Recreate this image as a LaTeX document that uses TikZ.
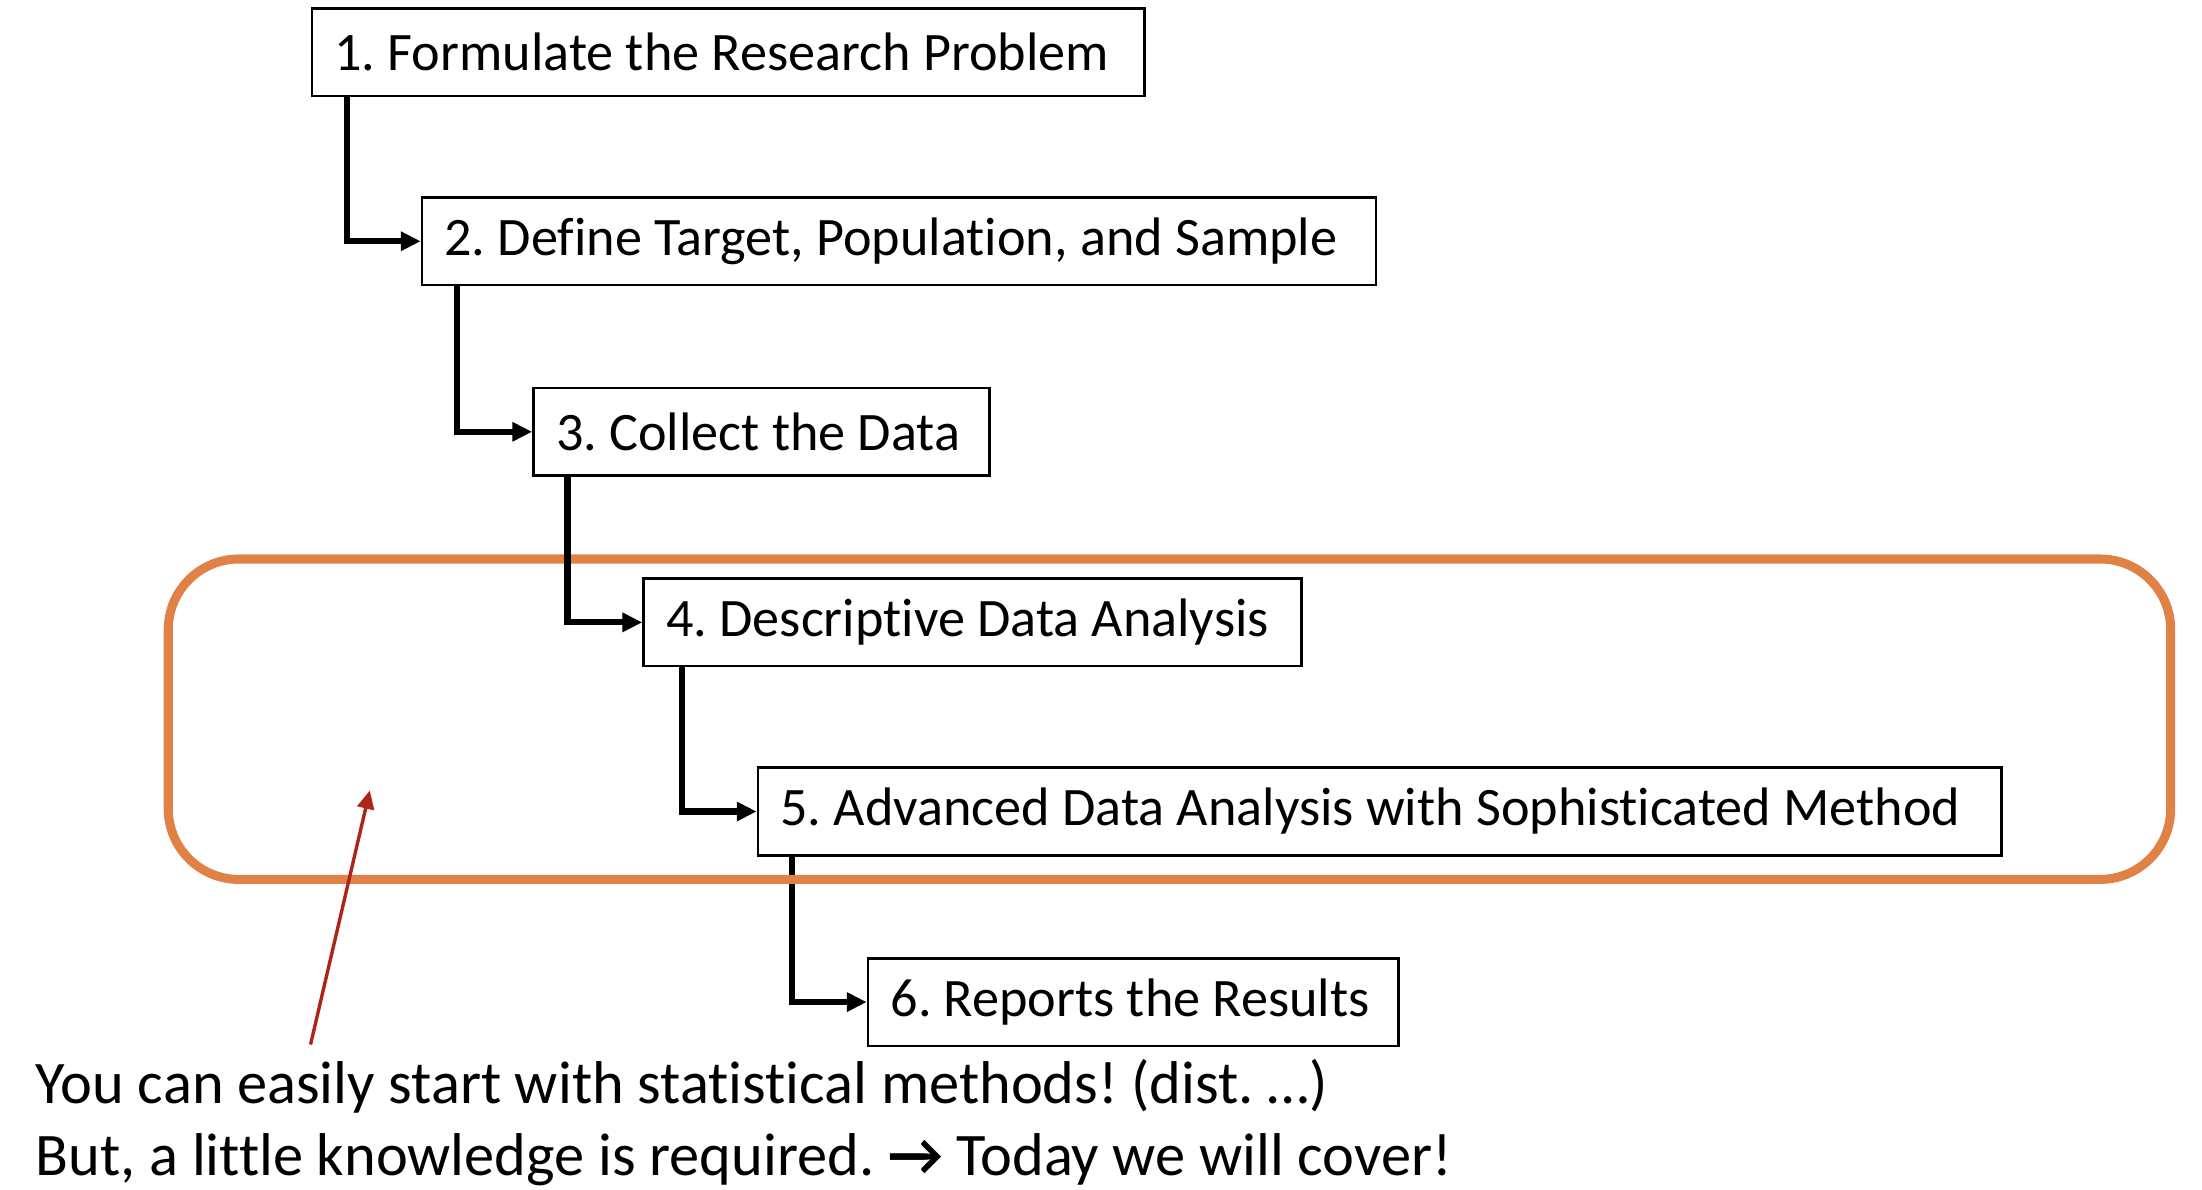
\documentclass[tikz,border=0pt]{standalone}
\usepackage{fontspec}
\setmainfont{Carlito}[Ligatures=NoCommon]
\usetikzlibrary{arrows.meta}
\definecolor{hlorange}{HTML}{E08246}
\definecolor{notered}{HTML}{B02418}
\tikzset{
  stepbox/.style={draw=black, line width=0.9pt, anchor=north west, inner xsep=8pt, inner ysep=0pt,
    minimum height=31pt, font=\fontsize{19.2}{22}\selectfont\frenchspacing},
  conn/.style={line width=2.2pt, -{Triangle[length=7pt,width=6.5pt]}},
  hlbox/.style={draw=hlorange, line width=3.2pt, rounded corners=25pt},
  note/.style={anchor=base west, inner sep=0pt, font=\fontsize{21.4}{25}\selectfont\frenchspacing},
}
\begin{document}
\begin{tikzpicture}[x=0.5pt,y=-0.5pt]
\useasboundingbox (0,0) rectangle (1560,843);
\node[stepbox] (b1) at (220,5) {\makebox[279pt][l]{1. Formulate the Research Problem}};
\node[stepbox] (b2) at (298,139) {\makebox[322pt][l]{2. Define Target, Population, and Sample}};
\node[stepbox] (b3) at (377,274) {\makebox[145.5pt][l]{3. Collect the Data}};
\node[stepbox] (b4) at (455,409) {\makebox[217pt][l]{4. Descriptive Data Analysis}};
\node[stepbox] (b5) at (536,543) {\makebox[424.5pt][l]{5. Advanced Data Analysis with Sophisticated Method}};
\node[stepbox] (b6) at (614,678) {\makebox[172pt][l]{6. Reports the Results}};
\draw[conn] ([xshift=12.5pt]b5.south west) |- (b6.west);
\node[hlbox, minimum width=709.3pt, minimum height=113.5pt] (hl) at (828.5,509.5) {};
\draw[conn] ([xshift=13pt]b1.south west) |- (b2.west);
\draw[conn] ([xshift=13pt]b2.south west) |- (b3.west);
\draw[conn] ([xshift=12.5pt]b3.south west) |- (b4.west);
\draw[conn] ([xshift=14pt]b4.south west) |- (b5.west);
\coordinate (ntail) at (220,740);
\coordinate (nhead) at (262,560);
\draw[notered, line width=1.2pt, -{Triangle[length=6.5pt,width=6pt]}] (ntail) -- (nhead);
\node[note] (n1) at (25,782) {You can easily start with statistical methods! (dist. …)};
\node[note] (n2) at (25,833) {But, a little knowledge is required. {\bfseries →} Today we will cover!};
\end{tikzpicture}
\end{document}
